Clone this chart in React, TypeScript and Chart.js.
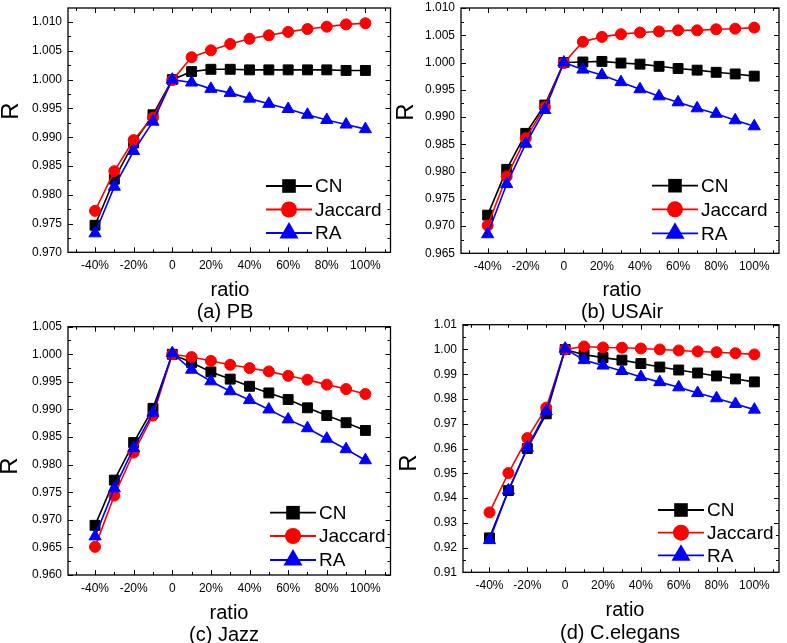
import React, { useEffect, useRef } from 'react';
import { Chart, registerables } from 'chart.js';
Chart.register(...registerables);

const FONT = '"Liberation Sans", Arial, sans-serif';
const PAGE_W = 787;
const PAGE_H = 643;
const YW = 50;
const XH = 26;

// ---------- data ----------
const ratios = [-40, -30, -20, -10, 0, 10, 20, 30, 40, 50, 60, 70, 80, 90, 100];
const xLabelTicks = [-40, -20, 0, 20, 40, 60, 80, 100];
const xMinorTicks = [-50, -40, -30, -20, -10, 0, 10, 20, 30, 40, 50, 60, 70, 80, 90, 100, 110];
const seriesNames = ['CN', 'Jaccard', 'RA'];

const pbCN = [0.9747, 0.9827, 0.989, 0.9939, 1.0, 1.0014, 1.0018, 1.0018, 1.0017, 1.0017, 1.0017, 1.0017, 1.0017, 1.0016, 1.0016];
const pbJaccard = [0.9772, 0.9841, 0.9895, 0.9934, 0.9999, 1.0039, 1.0051, 1.0062, 1.0071, 1.0077, 1.0083, 1.0088, 1.0092, 1.0096, 1.0098];
const pbRA = [0.9733, 0.9814, 0.9876, 0.9927, 1.0, 0.9995, 0.9984, 0.9977, 0.9967, 0.9958, 0.9949, 0.9939, 0.993, 0.9922, 0.9914];

const usairCN = [0.972, 0.9804, 0.987, 0.9922, 1.0, 1.0001, 1.0002, 0.9999, 0.9997, 0.9993, 0.9989, 0.9986, 0.9982, 0.9979, 0.9975];
const usairJaccard = [0.9701, 0.9791, 0.9861, 0.9918, 0.9999, 1.0038, 1.0047, 1.0052, 1.0055, 1.0057, 1.0059, 1.0059, 1.0061, 1.0062, 1.0064];
const usairRA = [0.9685, 0.9777, 0.9851, 0.9913, 1.0, 0.9987, 0.9977, 0.9964, 0.9951, 0.9938, 0.9927, 0.9916, 0.9906, 0.9894, 0.9883];

const jazzCN = [0.969, 0.9772, 0.984, 0.9902, 1.0, 0.9985, 0.9968, 0.9955, 0.9942, 0.993, 0.9918, 0.9903, 0.9889, 0.9876, 0.9862];
const jazzJaccard = [0.9651, 0.9744, 0.9822, 0.9889, 1.0, 0.9995, 0.9988, 0.9981, 0.9975, 0.9969, 0.9961, 0.9954, 0.9945, 0.9937, 0.9928];
const jazzRA = [0.967, 0.9757, 0.983, 0.9894, 1.0002, 0.9972, 0.9951, 0.9933, 0.9917, 0.99, 0.9882, 0.9866, 0.9847, 0.9828, 0.9808];

const celegansCN = [0.9239, 0.943, 0.96, 0.974, 1.0, 0.9979, 0.9967, 0.9957, 0.9943, 0.9929, 0.9917, 0.9905, 0.9893, 0.9881, 0.9869];
const celegansJaccard = [0.9342, 0.9501, 0.9642, 0.9765, 1.0, 1.0012, 1.0008, 1.0007, 1.0004, 1.0, 0.9996, 0.9992, 0.9989, 0.9985, 0.998];
const celegansRA = [0.923, 0.9431, 0.9603, 0.975, 1.0003, 0.9957, 0.9935, 0.9913, 0.9889, 0.9868, 0.9847, 0.9824, 0.9803, 0.978, 0.9757];

const yTicksPB = [0.97, 0.975, 0.98, 0.985, 0.99, 0.995, 1.0, 1.005, 1.01];
const yTicksUSAir = [0.965, 0.97, 0.975, 0.98, 0.985, 0.99, 0.995, 1.0, 1.005, 1.01];
const yTicksJazz = [0.96, 0.965, 0.97, 0.975, 0.98, 0.985, 0.99, 0.995, 1.0, 1.005];
const yTicksCelegans = [0.91, 0.92, 0.93, 0.94, 0.95, 0.96, 0.97, 0.98, 0.99, 1.0, 1.01];

// ---------- styling ----------
const COLORS = ['#000000', '#ff0000', '#0000ff'];
const STYLES = ['rect', 'circle', 'triangle'];
const RADII = [7, 5.5, 7];

type Panel = {
  series: number[][];
  area: { l: number; t: number; r: number; b: number };
  xMin: number;
  xMax: number;
  yMin: number;
  yMax: number;
  yTicks: number[];
  yDec: number;
  rPos: [number, number];
  ratioPos: [number, number];
  caption: string;
  captionPos: [number, number];
  legend: { x: number; rows: number[] };
};

const panels: Panel[] = [
  {
    series: [pbCN, pbJaccard, pbRA],
    area: { l: 68, t: 4, r: 390.5, b: 252.3 },
    xMin: -54, xMax: 113, yMin: 0.97, yMax: 1.01245,
    yTicks: yTicksPB, yDec: 3,
    rPos: [10, 111], ratioPos: [230, 290], caption: '(a) PB', captionPos: [225, 312],
    legend: { x: 266, rows: [186, 209.5, 233] },
  },
  {
    series: [usairCN, usairJaccard, usairRA],
    area: { l: 461, t: 6, r: 782, b: 253.3 },
    xMin: -54, xMax: 113, yMin: 0.965, yMax: 1.01,
    yTicks: yTicksUSAir, yDec: 3,
    rPos: [405, 112], ratioPos: [622, 290], caption: '(b) USAir', captionPos: [622, 312],
    legend: { x: 652, rows: [185.7, 209.3, 233.3] },
  },
  {
    series: [jazzCN, jazzJaccard, jazzRA],
    area: { l: 68, t: 326.7, r: 390.5, b: 575 },
    xMin: -54, xMax: 113, yMin: 0.96, yMax: 1.005,
    yTicks: yTicksJazz, yDec: 3,
    rPos: [9, 466], ratioPos: [229, 613], caption: '(c) Jazz', captionPos: [224, 635],
    legend: { x: 270, rows: [512.7, 536, 560] },
  },
  {
    series: [celegansCN, celegansJaccard, celegansRA],
    area: { l: 463, t: 324.7, r: 782, b: 572.3 },
    xMin: -54, xMax: 113, yMin: 0.91, yMax: 1.01,
    yTicks: yTicksCelegans, yDec: 2,
    rPos: [408, 463], ratioPos: [625, 610], caption: '(d) C.elegans', captionPos: [620, 633],
    legend: { x: 658, rows: [510, 532.7, 555.3] },
  },
];

function drawMarker(ctx: CanvasRenderingContext2D, style: string, x: number, y: number, color: string) {
  ctx.fillStyle = color;
  ctx.beginPath();
  if (style === 'rect') {
    const s = 6.8;
    ctx.rect(x - s, y - s, 2 * s, 2 * s);
  } else if (style === 'circle') {
    ctx.arc(x, y, 8, 0, Math.PI * 2);
  } else {
    const r = 11;
    ctx.moveTo(x, y - r);
    ctx.lineTo(x + r * Math.sin((2 * Math.PI) / 3), y - r * Math.cos((2 * Math.PI) / 3));
    ctx.lineTo(x + r * Math.sin((4 * Math.PI) / 3), y - r * Math.cos((4 * Math.PI) / 3));
    ctx.closePath();
  }
  ctx.fill();
}

function makePlugin(p: Panel) {
  return {
    id: 'panelDecor',
    beforeDatasetsDraw(chart: any) {
      const ctx: CanvasRenderingContext2D = chart.ctx;
      const ca = chart.chartArea;
      const xs = chart.scales.x;
      const ys = chart.scales.y;
      ctx.save();
      ctx.strokeStyle = '#000';
      ctx.lineWidth = 1.3;
      ctx.strokeRect(ca.left, ca.top, ca.right - ca.left, ca.bottom - ca.top);
      ctx.lineWidth = 1;
      ctx.beginPath();
      for (const v of xMinorTicks) {
        if (v < p.xMin || v > p.xMax) continue;
        const px = Math.round(xs.getPixelForValue(v)) + 0.5;
        const len = xLabelTicks.includes(v) ? 5 : 3;
        ctx.moveTo(px, ca.bottom);
        ctx.lineTo(px, ca.bottom - len);
        ctx.moveTo(px, ca.top);
        ctx.lineTo(px, ca.top + len);
      }
      const step = p.yTicks[1] - p.yTicks[0];
      const yAll: { v: number; major: boolean }[] = [];
      p.yTicks.forEach((v) => {
        yAll.push({ v, major: true });
        yAll.push({ v: v + step / 2, major: false });
      });
      for (const t of yAll) {
        if (t.v < p.yMin - 1e-9 || t.v > p.yMax + 1e-9) continue;
        const py = Math.round(ys.getPixelForValue(t.v)) + 0.5;
        const len = t.major ? 5 : 3;
        ctx.moveTo(ca.left, py);
        ctx.lineTo(ca.left + len, py);
        ctx.moveTo(ca.right, py);
        ctx.lineTo(ca.right - len, py);
      }
      ctx.stroke();
      ctx.restore();
    },
    afterDraw(chart: any) {
      const ctx: CanvasRenderingContext2D = chart.ctx;
      ctx.save();
      ctx.fillStyle = '#000';
      ctx.textAlign = 'center';
      ctx.textBaseline = 'middle';
      ctx.font = `20px ${FONT}`;
      ctx.fillText('ratio', p.ratioPos[0], p.ratioPos[1]);
      ctx.fillText(p.caption, p.captionPos[0], p.captionPos[1]);
      ctx.save();
      ctx.translate(p.rPos[0], p.rPos[1]);
      ctx.rotate(-Math.PI / 2);
      ctx.font = `24px ${FONT}`;
      ctx.fillText('R', 0, 1);
      ctx.restore();
      ctx.font = `19px ${FONT}`;
      ctx.textAlign = 'left';
      seriesNames.forEach((name, i) => {
        const y = p.legend.rows[i];
        ctx.strokeStyle = COLORS[i];
        ctx.lineWidth = 1.8;
        ctx.beginPath();
        ctx.moveTo(p.legend.x, y);
        ctx.lineTo(p.legend.x + 46, y);
        ctx.stroke();
        drawMarker(ctx, STYLES[i], p.legend.x + 23, y, COLORS[i]);
        ctx.fillStyle = '#000';
        ctx.fillText(name, p.legend.x + 49, y + 1);
      });
      ctx.restore();
    },
  };
}

function PanelChart({ p }: { p: Panel }) {
  const ref = useRef<HTMLCanvasElement | null>(null);
  useEffect(() => {
    if (!ref.current) return;
    const datasets = p.series.map((vals, i) => ({
      label: seriesNames[i],
      data: ratios.map((x, j) => ({ x, y: vals[j] })),
      borderColor: COLORS[i],
      backgroundColor: COLORS[i],
      borderWidth: 1.6,
      pointStyle: STYLES[i] as any,
      pointRadius: RADII[i],
      pointBorderWidth: 1,
      pointBorderColor: COLORS[i],
      pointBackgroundColor: COLORS[i],
      showLine: true,
      fill: false,
      tension: 0,
      order: 3 - i,
      clip: false as any,
    }));
    const chart = new Chart(ref.current, {
      type: 'scatter',
      data: { datasets },
      options: {
        responsive: false,
        animation: false,
        events: [],
        layout: {
          padding: {
            left: p.area.l - YW,
            top: p.area.t,
            right: PAGE_W - p.area.r,
            bottom: PAGE_H - p.area.b - XH,
          },
        },
        plugins: {
          legend: { display: false },
          tooltip: { enabled: false },
          title: { display: false },
        },
        scales: {
          x: {
            type: 'linear',
            min: p.xMin,
            max: p.xMax,
            grid: { display: false, drawTicks: false },
            border: { display: false },
            afterBuildTicks: (s: any) => {
              s.ticks = xLabelTicks.map((v) => ({ value: v }));
            },
            afterFit: (s: any) => {
              s.height = XH;
              s.paddingLeft = 0;
              s.paddingRight = 0;
            },
            ticks: {
              padding: 6,
              color: '#000',
              font: { family: FONT, size: 12 },
              maxRotation: 0,
              autoSkip: false,
              callback: (v: any) => (Number(v) === 0 ? '0' : `${v}%`),
            },
          },
          y: {
            type: 'linear',
            min: p.yMin,
            max: p.yMax,
            grid: { display: false, drawTicks: false },
            border: { display: false },
            afterBuildTicks: (s: any) => {
              s.ticks = p.yTicks.map((v) => ({ value: v }));
            },
            afterFit: (s: any) => {
              s.width = YW;
              s.paddingTop = 0;
              s.paddingBottom = 0;
            },
            ticks: {
              padding: 6,
              color: '#000',
              font: { family: FONT, size: 12 },
              autoSkip: false,
              callback: (v: any) => Number(v).toFixed(p.yDec),
            },
          },
        },
      },
      plugins: [makePlugin(p)],
    });
    return () => chart.destroy();
  }, [p]);
  return (
    <canvas
      ref={ref}
      width={PAGE_W}
      height={PAGE_H}
      style={{ position: 'absolute', left: 0, top: 0, width: PAGE_W, height: PAGE_H }}
    />
  );
}

export default function App() {
  return (
    <div style={{ position: 'absolute', left: 0, top: 0, width: PAGE_W, height: PAGE_H, background: '#fff' }}>
      {panels.map((p, i) => (
        <PanelChart key={i} p={p} />
      ))}
    </div>
  );
}
